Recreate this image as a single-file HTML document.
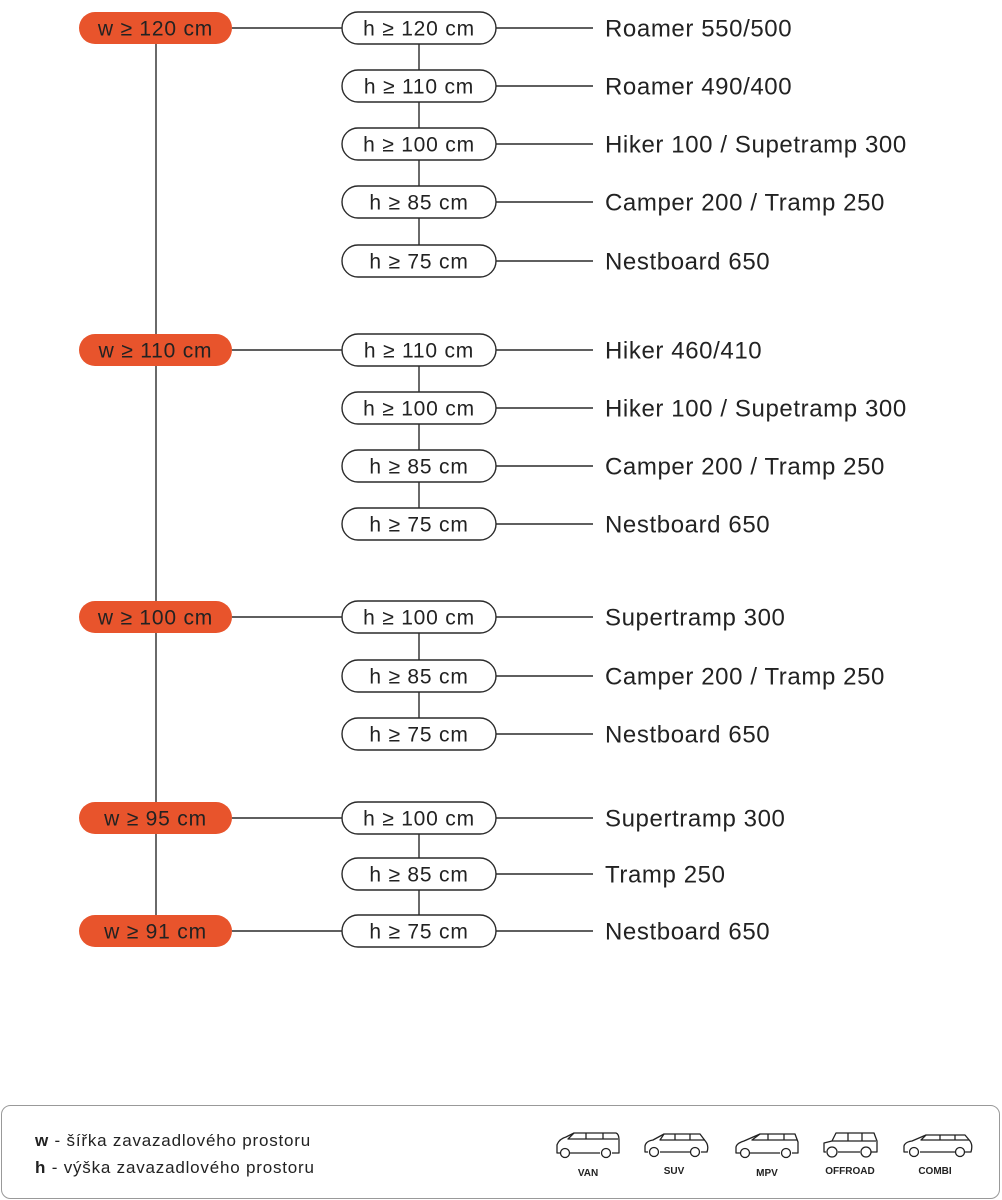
<!DOCTYPE html>
<html><head><meta charset="utf-8"><style>
html,body{margin:0;padding:0;background:#fff;}
svg{display:block;font-family:"Liberation Sans",sans-serif;}
</style></head><body>
<svg width="1002" height="1200" viewBox="0 0 1002 1200" xmlns="http://www.w3.org/2000/svg">
<g stroke="#2a2a2a" stroke-width="1.4" fill="none">
<line x1="156" y1="28" x2="156" y2="931"/>
<line x1="232" y1="28" x2="342" y2="28"/>
<line x1="232" y1="350" x2="342" y2="350"/>
<line x1="232" y1="617" x2="342" y2="617"/>
<line x1="232" y1="818" x2="342" y2="818"/>
<line x1="232" y1="931" x2="342" y2="931"/>
<line x1="419" y1="28" x2="419" y2="261"/>
<line x1="419" y1="350" x2="419" y2="524"/>
<line x1="419" y1="617" x2="419" y2="734"/>
<line x1="419" y1="818" x2="419" y2="931"/>
<g>
<line x1="496" y1="28" x2="593" y2="28"/><line x1="496" y1="86" x2="593" y2="86"/><line x1="496" y1="144" x2="593" y2="144"/><line x1="496" y1="202" x2="593" y2="202"/><line x1="496" y1="261" x2="593" y2="261"/>
<line x1="496" y1="350" x2="593" y2="350"/><line x1="496" y1="408" x2="593" y2="408"/><line x1="496" y1="466" x2="593" y2="466"/><line x1="496" y1="524" x2="593" y2="524"/>
<line x1="496" y1="617" x2="593" y2="617"/><line x1="496" y1="676" x2="593" y2="676"/><line x1="496" y1="734" x2="593" y2="734"/>
<line x1="496" y1="818" x2="593" y2="818"/><line x1="496" y1="874" x2="593" y2="874"/><line x1="496" y1="931" x2="593" y2="931"/>
</g>
</g>
<g fill="#e8542c">
<rect x="79" y="12" width="153" height="32" rx="16"/>
<rect x="79" y="334" width="153" height="32" rx="16"/>
<rect x="79" y="601" width="153" height="32" rx="16"/>
<rect x="79" y="802" width="153" height="32" rx="16"/>
<rect x="79" y="915" width="153" height="32" rx="16"/>
</g>
<g font-size="21" letter-spacing="0.8" fill="#222" text-anchor="middle">
<text x="155.5" y="35.5">w ≥ 120 cm</text>
<text x="155.5" y="357.5">w ≥ 110 cm</text>
<text x="155.5" y="624.5">w ≥ 100 cm</text>
<text x="155.5" y="825.5">w ≥ 95 cm</text>
<text x="155.5" y="938.5">w ≥ 91 cm</text>
</g>
<g fill="#fff" stroke="#2a2a2a" stroke-width="1.4">
<rect x="342" y="12" width="154" height="32" rx="16"/>
<rect x="342" y="70" width="154" height="32" rx="16"/>
<rect x="342" y="128" width="154" height="32" rx="16"/>
<rect x="342" y="186" width="154" height="32" rx="16"/>
<rect x="342" y="245" width="154" height="32" rx="16"/>
<rect x="342" y="334" width="154" height="32" rx="16"/>
<rect x="342" y="392" width="154" height="32" rx="16"/>
<rect x="342" y="450" width="154" height="32" rx="16"/>
<rect x="342" y="508" width="154" height="32" rx="16"/>
<rect x="342" y="601" width="154" height="32" rx="16"/>
<rect x="342" y="660" width="154" height="32" rx="16"/>
<rect x="342" y="718" width="154" height="32" rx="16"/>
<rect x="342" y="802" width="154" height="32" rx="16"/>
<rect x="342" y="858" width="154" height="32" rx="16"/>
<rect x="342" y="915" width="154" height="32" rx="16"/>
</g>
<g font-size="21" letter-spacing="0.8" fill="#222" text-anchor="middle">
<text x="419" y="35.5">h ≥ 120 cm</text>
<text x="419" y="93.5">h ≥ 110 cm</text>
<text x="419" y="151.5">h ≥ 100 cm</text>
<text x="419" y="209.5">h ≥ 85 cm</text>
<text x="419" y="268.5">h ≥ 75 cm</text>
<text x="419" y="357.5">h ≥ 110 cm</text>
<text x="419" y="415.5">h ≥ 100 cm</text>
<text x="419" y="473.5">h ≥ 85 cm</text>
<text x="419" y="531.5">h ≥ 75 cm</text>
<text x="419" y="624.5">h ≥ 100 cm</text>
<text x="419" y="683.5">h ≥ 85 cm</text>
<text x="419" y="741.5">h ≥ 75 cm</text>
<text x="419" y="825.5">h ≥ 100 cm</text>
<text x="419" y="881.5">h ≥ 85 cm</text>
<text x="419" y="938.5">h ≥ 75 cm</text>
</g>
<g font-size="24" letter-spacing="0.6" fill="#222">
<text x="605" y="36.5">Roamer 550/500</text>
<text x="605" y="94.5">Roamer 490/400</text>
<text x="605" y="152.5">Hiker 100 / Supetramp 300</text>
<text x="605" y="210.5">Camper 200 / Tramp 250</text>
<text x="605" y="269.5">Nestboard 650</text>
<text x="605" y="358.5">Hiker 460/410</text>
<text x="605" y="416.5">Hiker 100 / Supetramp 300</text>
<text x="605" y="474.5">Camper 200 / Tramp 250</text>
<text x="605" y="532.5">Nestboard 650</text>
<text x="605" y="625.5">Supertramp 300</text>
<text x="605" y="684.5">Camper 200 / Tramp 250</text>
<text x="605" y="742.5">Nestboard 650</text>
<text x="605" y="826.5">Supertramp 300</text>
<text x="605" y="882.5">Tramp 250</text>
<text x="605" y="939.5">Nestboard 650</text>
</g>
<rect x="1.5" y="1105.5" width="998" height="93" rx="9" fill="#fff" stroke="#999" stroke-width="1"/>
<g font-size="17" letter-spacing="0.8" fill="#222">
<text x="35" y="1146"><tspan font-weight="bold">w</tspan> - šířka zavazadlového prostoru</text>
<text x="35" y="1173"><tspan font-weight="bold">h</tspan> - výška zavazadlového prostoru</text>
</g>
<g fill="none" stroke="#222" stroke-width="1.3" stroke-linejoin="round">
<path d="M561 1153 H557 V1145 Q559 1139 566 1137 L574 1133 H616 Q619 1134 619 1140 V1153 H612 M600 1153 H570"/>
<path d="M574 1133 L568 1139 H618 M586 1133 V1139 M603 1133 V1139"/>
<circle cx="565" cy="1153" r="4.5"/><circle cx="606" cy="1153" r="4.5"/>
<path d="M648 1152 H645 V1146 Q646 1141 653 1140 L664 1134 H700 L706 1142 Q709 1146 707 1152 H701 M690 1152 H660"/>
<path d="M664 1134 L660 1140 H705 M675 1134 V1140 M690 1134 V1140"/>
<circle cx="654" cy="1152" r="4.5"/><circle cx="695" cy="1152" r="4.5"/>
<path d="M740 1153 H736 V1147 Q737 1143 744 1141 L760 1134 H795 L798 1142 V1153 H792 M780 1153 H750"/>
<path d="M760 1134 L752 1140 H797 M768 1134 V1140 M784 1134 V1140"/>
<circle cx="745" cy="1153" r="4.5"/><circle cx="786" cy="1153" r="4.5"/>
<path d="M826 1152 H824 V1143 L832 1141 L836 1133 H874 L877 1141 V1152 H871 M860 1152 H838"/>
<path d="M832 1141 H876 M848 1133 V1141 M862 1133 V1141"/>
<circle cx="832" cy="1152" r="5"/><circle cx="866" cy="1152" r="5"/>
<path d="M908 1152 H904 V1146 Q905 1142 912 1141 L926 1135 H965 L970 1141 Q973 1145 971 1152 H965 M955 1152 H920"/>
<path d="M926 1135 L921 1140 H969 M940 1135 V1140 M955 1135 V1140"/>
<circle cx="914" cy="1152" r="4.5"/><circle cx="960" cy="1152" r="4.5"/>
</g>
<g font-size="10" fill="#222" text-anchor="middle" font-weight="bold">
<text x="588" y="1176">VAN</text>
<text x="674" y="1174">SUV</text>
<text x="767" y="1176">MPV</text>
<text x="850" y="1174">OFFROAD</text>
<text x="935" y="1174">COMBI</text>
</g>
</svg>
</body></html>
